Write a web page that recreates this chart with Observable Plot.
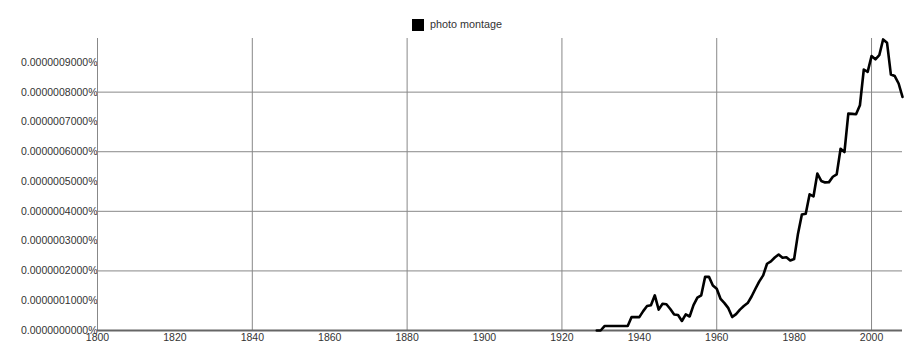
<!DOCTYPE html>
<html>
<head>
<meta charset="utf-8">
<script src="https://cdn.jsdelivr.net/npm/d3@7"></script>
<script src="https://cdn.jsdelivr.net/npm/@observablehq/plot@0.6"></script>
<style>
  html, body { margin: 0; padding: 0; background: #fff; }
  body { width: 912px; height: 349px; overflow: hidden; font-family: "Liberation Sans", Arial, sans-serif; }
  #legend { position: relative; height: 30px; }
  #legend .sw { position: absolute; left: 412px; top: 19px; width: 12px; height: 12px; background: #000; }
  #legend .lb { position: absolute; left: 430px; top: 18px; font-size: 10.8px; color: #333; line-height: 13px; }
</style>
</head>
<body>
<div id="legend"><div class="sw"></div><div class="lb">photo montage</div></div>
<div id="chart"></div>
<script>
const seriesName = "photo montage";
// values in units of 0.0000001% (1e-7 %), for years 1929..2008; zero and hidden under the axis before that
const years = d3.range(1929, 2009);
const values = [
  0.00,
  0.00, 0.15, 0.15, 0.15, 0.15, 0.15, 0.15, 0.15, 0.45, 0.45,
  0.45, 0.65, 0.82, 0.85, 1.18, 0.70, 0.90, 0.88, 0.72, 0.54,
  0.52, 0.32, 0.54, 0.47, 0.85, 1.10, 1.18, 1.80, 1.80, 1.51,
  1.40, 1.06, 0.92, 0.75, 0.45, 0.55, 0.70, 0.82, 0.92, 1.14,
  1.40, 1.65, 1.85, 2.24, 2.32, 2.45, 2.55, 2.44, 2.46, 2.35,
  2.40, 3.25, 3.89, 3.92, 4.57, 4.50, 5.27, 5.02, 4.97, 4.98,
  5.16, 5.24, 6.10, 5.99, 7.28, 7.27, 7.26, 7.56, 8.76, 8.68,
  9.21, 9.10, 9.24, 9.77, 9.66, 8.59, 8.54, 8.29, 7.84
];
const yTicks = [0, 1, 2, 3, 4, 5, 6, 7, 8, 9];
const yGrid = [2, 4, 6, 8];
const xTicks = [1800, 1820, 1840, 1860, 1880, 1900, 1920, 1940, 1960, 1980, 2000];
const xGrid = [1800, 1840, 1880, 1920, 1960, 2000];

const data = years.map((y, i) => ({year: y, value: values[i]}));

const fmt = d => (d / 1e7).toFixed(10) + "%";

const chart = Plot.plot({
  width: 912,
  height: 319,
  marginTop: 8,
  marginBottom: 19,
  marginLeft: 97,
  marginRight: 10,
  style: {fontFamily: "Liberation Sans, Arial, sans-serif", fontSize: "10.5px", color: "#333", background: "#fff"},
  x: {domain: [1800, 2008], ticks: xTicks, tickFormat: d => String(d), tickSize: 0, tickPadding: 3, label: null},
  y: {domain: [0, 9.8], ticks: yTicks, tickFormat: fmt, tickSize: 0, tickPadding: 0, label: null},
  marks: [
    Plot.ruleY(yGrid, {stroke: "#888", strokeWidth: 1}),
    Plot.ruleX(xGrid, {stroke: "#888", strokeWidth: 1}),
    Plot.ruleY([0], {stroke: "#666", strokeWidth: 2}),
    Plot.line(data, {x: "year", y: "value", stroke: "#000", strokeWidth: 2.6, curve: "linear"})
  ]
});
document.getElementById("chart").appendChild(chart);
</script>
</body>
</html>
